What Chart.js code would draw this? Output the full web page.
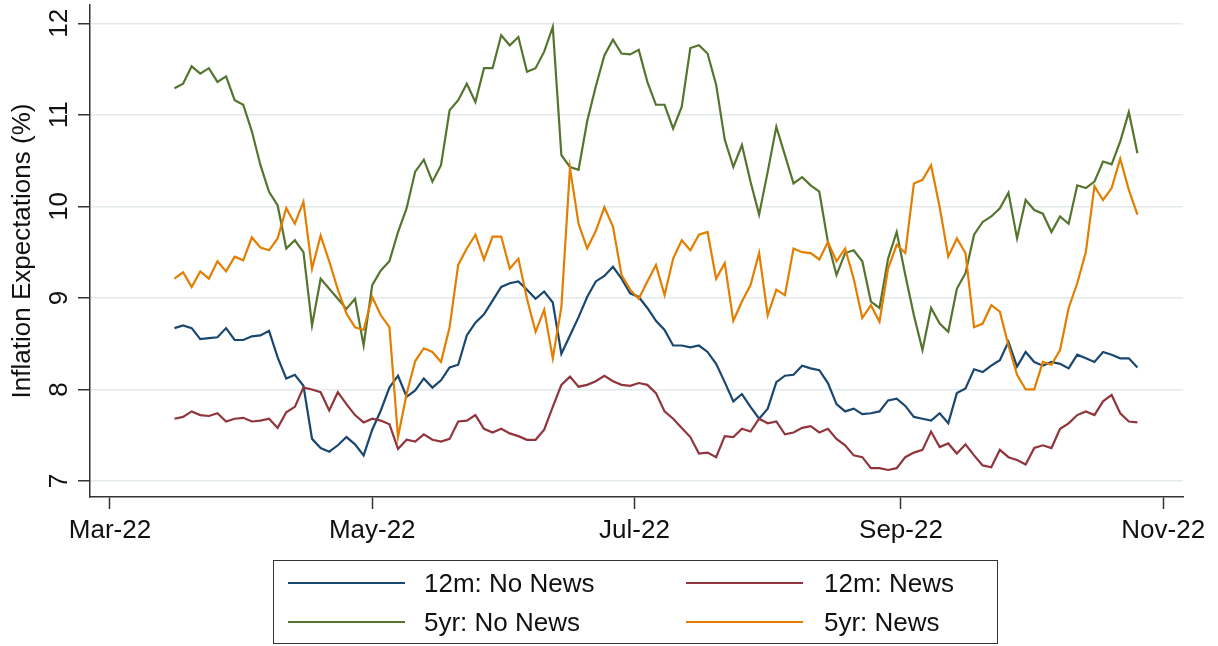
<!DOCTYPE html>
<html>
<head>
<meta charset="utf-8">
<title>Inflation Expectations</title>
<script src="https://cdn.jsdelivr.net/npm/chart.js@4.4.1/dist/chart.umd.min.js"></script>
<style>
    html, body { margin: 0; padding: 0; background: #fff; }
    #wrap { position: relative; width: 1218px; height: 646px; }
    #legend {
        position: absolute; left: 273px; top: 560px; width: 725px; height: 84px;
        box-sizing: border-box; border: 1.5px solid #333;
    }
    .leg-line { position: absolute; height: 2.5px; }
    .leg-text {
        position: absolute; transform: translateY(-50%); line-height: 1;
        font-family: 'Liberation Sans', Arial, sans-serif; font-size: 26px; color: #111;
        white-space: nowrap;
    }
</style>
</head>
<body>
<div id="wrap">
    <canvas id="chart" width="1218" height="646"></canvas>
    <div id="legend"></div>
</div>
<script>
// Sample dates (every second day)
const dates = [
    '2022-03-16', '2022-03-18', '2022-03-20', '2022-03-22', '2022-03-24', '2022-03-26', '2022-03-28', '2022-03-30',
    '2022-04-01', '2022-04-03', '2022-04-05', '2022-04-07', '2022-04-09', '2022-04-11', '2022-04-13', '2022-04-15',
    '2022-04-17', '2022-04-19', '2022-04-21', '2022-04-23', '2022-04-25', '2022-04-27', '2022-04-29',
    '2022-05-01', '2022-05-03', '2022-05-05', '2022-05-07', '2022-05-09', '2022-05-11', '2022-05-13', '2022-05-15',
    '2022-05-17', '2022-05-19', '2022-05-21', '2022-05-23', '2022-05-25', '2022-05-27', '2022-05-29', '2022-05-31',
    '2022-06-02', '2022-06-04', '2022-06-06', '2022-06-08', '2022-06-10', '2022-06-12', '2022-06-14', '2022-06-16',
    '2022-06-18', '2022-06-20', '2022-06-22', '2022-06-24', '2022-06-26', '2022-06-28', '2022-06-30',
    '2022-07-02', '2022-07-04', '2022-07-06', '2022-07-08', '2022-07-10', '2022-07-12', '2022-07-14', '2022-07-16',
    '2022-07-18', '2022-07-20', '2022-07-22', '2022-07-24', '2022-07-26', '2022-07-28', '2022-07-30',
    '2022-08-01', '2022-08-03', '2022-08-05', '2022-08-07', '2022-08-09', '2022-08-11', '2022-08-13', '2022-08-15',
    '2022-08-17', '2022-08-19', '2022-08-21', '2022-08-23', '2022-08-25', '2022-08-27', '2022-08-29', '2022-08-31',
    '2022-09-02', '2022-09-04', '2022-09-06', '2022-09-08', '2022-09-10', '2022-09-12', '2022-09-14', '2022-09-16',
    '2022-09-18', '2022-09-20', '2022-09-22', '2022-09-24', '2022-09-26', '2022-09-28', '2022-09-30',
    '2022-10-02', '2022-10-04', '2022-10-06', '2022-10-08', '2022-10-10', '2022-10-12', '2022-10-14', '2022-10-16',
    '2022-10-18', '2022-10-20', '2022-10-22', '2022-10-24', '2022-10-26'
];

const noNews12m = [
    8.67, 8.70, 8.67, 8.55, 8.56, 8.57, 8.67, 8.54, 8.54, 8.58, 8.59, 8.64, 8.35, 8.12, 8.16, 8.04, 7.46, 7.36, 7.32, 7.39, 7.48, 7.40, 7.28,
    7.56, 7.77, 8.02, 8.15, 7.92, 7.99, 8.12, 8.02, 8.10, 8.24, 8.27, 8.59, 8.73, 8.82, 8.97, 9.12, 9.16, 9.18, 9.09, 8.99, 9.07, 8.95, 8.39,
    8.59, 8.79, 9.01, 9.18, 9.24, 9.34, 9.21, 9.05, 9.01, 8.89, 8.75, 8.65, 8.48, 8.48, 8.46, 8.48, 8.41, 8.28, 8.08, 7.87, 7.95, 7.81, 7.68,
    7.79, 8.08, 8.15, 8.16, 8.26, 8.23, 8.21, 8.07, 7.84, 7.76, 7.79, 7.73, 7.74, 7.76, 7.88, 7.90, 7.82, 7.70, 7.68, 7.66, 7.74, 7.63, 7.96,
    8.01, 8.22, 8.19, 8.26, 8.32, 8.52, 8.25, 8.41, 8.30, 8.26, 8.30, 8.28, 8.23, 8.38, 8.34, 8.30, 8.41, 8.38, 8.34, 8.34, 8.24
];
const news12m = [
    7.68, 7.70, 7.76, 7.72, 7.71, 7.74, 7.65, 7.68, 7.69, 7.65, 7.66, 7.68, 7.58, 7.75, 7.81, 8.02, 8.00, 7.97, 7.77, 7.97, 7.84, 7.72, 7.64,
    7.68, 7.66, 7.62, 7.35, 7.45, 7.43, 7.51, 7.45, 7.43, 7.46, 7.65, 7.66, 7.72, 7.57, 7.53, 7.57, 7.52, 7.49, 7.45, 7.45, 7.56, 7.81, 8.05,
    8.14, 8.03, 8.05, 8.09, 8.15, 8.09, 8.05, 8.04, 8.07, 8.05, 7.96, 7.76, 7.68, 7.58, 7.48, 7.30, 7.31, 7.26, 7.49, 7.48, 7.57, 7.54, 7.68,
    7.63, 7.65, 7.51, 7.53, 7.58, 7.60, 7.53, 7.57, 7.46, 7.39, 7.28, 7.26, 7.14, 7.14, 7.12, 7.14, 7.26, 7.31, 7.34, 7.54, 7.37, 7.41, 7.30,
    7.40, 7.28, 7.17, 7.15, 7.34, 7.26, 7.23, 7.18, 7.36, 7.39, 7.36, 7.57, 7.63, 7.72, 7.76, 7.72, 7.87, 7.94, 7.74, 7.65, 7.64
];
const noNews5yr = [
    11.29, 11.34, 11.53, 11.45, 11.51, 11.36, 11.42, 11.16, 11.11, 10.82, 10.45, 10.16, 10.01, 9.54, 9.63, 9.50, 8.70, 9.21, 9.10, 8.99, 8.88, 8.99, 8.48,
    9.14, 9.30, 9.40, 9.72, 9.98, 10.38, 10.51, 10.27, 10.45, 11.05, 11.16, 11.34, 11.14, 11.51, 11.51, 11.87, 11.76, 11.85, 11.47, 11.51, 11.69, 11.96, 10.56,
    10.43, 10.40, 10.93, 11.31, 11.65, 11.82, 11.67, 11.66, 11.71, 11.36, 11.11, 11.11, 10.85, 11.09, 11.73, 11.76, 11.67, 11.33, 10.73, 10.43, 10.67, 10.27, 9.91,
    10.38, 10.87, 10.56, 10.25, 10.32, 10.23, 10.16, 9.61, 9.25, 9.49, 9.52, 9.40, 8.96, 8.89, 9.43, 9.72, 9.25, 8.81, 8.43, 8.89, 8.72, 8.63, 9.10,
    9.27, 9.69, 9.83, 9.89, 9.98, 10.15, 9.65, 10.07, 9.96, 9.92, 9.72, 9.89, 9.81, 10.23, 10.20, 10.27, 10.49, 10.46, 10.71, 11.03, 10.58
];
const news5yr = [
    9.21, 9.28, 9.12, 9.29, 9.21, 9.40, 9.29, 9.45, 9.41, 9.66, 9.55, 9.52, 9.65, 9.98, 9.81, 10.05, 9.32, 9.68, 9.40, 9.09, 8.83, 8.68, 8.65,
    9.01, 8.81, 8.68, 7.48, 7.95, 8.31, 8.45, 8.41, 8.30, 8.68, 9.36, 9.54, 9.69, 9.42, 9.67, 9.67, 9.32, 9.43, 8.99, 8.63, 8.87, 8.34, 8.90,
    10.42, 9.81, 9.54, 9.73, 9.99, 9.78, 9.25, 9.09, 8.99, 9.18, 9.36, 9.03, 9.43, 9.63, 9.52, 9.69, 9.72, 9.21, 9.38, 8.75, 8.96, 9.14, 9.49,
    8.81, 9.09, 9.03, 9.54, 9.50, 9.49, 9.42, 9.61, 9.40, 9.54, 9.21, 8.78, 8.92, 8.74, 9.32, 9.58, 9.49, 10.25, 10.29, 10.45, 9.99, 9.45, 9.65,
    9.49, 8.68, 8.72, 8.92, 8.85, 8.48, 8.16, 8.00, 8.00, 8.30, 8.27, 8.43, 8.89, 9.16, 9.50, 10.22, 10.07, 10.20, 10.52, 10.18, 9.91
];

const seriesNames = ['12m: No News', '12m: News', '5yr: No News', '5yr: News'];
const seriesColors = ['#1a476f', '#90353b', '#55752f', '#e37e00'];
const seriesValues = [noNews12m, news12m, noNews5yr, news5yr];

const tickDates = ['2022-03-01', '2022-05-01', '2022-07-01', '2022-09-01', '2022-11-01'];
const tickLabels = ['Mar-22', 'May-22', 'Jul-22', 'Sep-22', 'Nov-22'];
const yTicks = [7, 8, 9, 10, 11, 12];

const FONT = "'Liberation Sans', Arial, sans-serif";
const AXIS = '#333';

// days since 1 Mar 2022, used as the linear x value
function dayOf(s) {
    const p = s.split('-').map(Number);
    return (Date.UTC(p[0], p[1] - 1, p[2]) - Date.UTC(2022, 2, 1)) / 86400000;
}

const datasets = seriesValues.map((vals, k) => ({
    label: seriesNames[k],
    data: vals.map((v, i) => ({ x: dayOf(dates[i]), y: v })),
    borderColor: seriesColors[k],
    borderWidth: 2.2,
    pointRadius: 0,
    tension: 0,
    fill: false,
    order: seriesValues.length - k // later series drawn on top, like Stata
}));

const ctx = document.getElementById('chart').getContext('2d');
const chart = new Chart(ctx, {
    type: 'line',
    data: { datasets: datasets },
    options: {
        responsive: false,
        animation: false,
        devicePixelRatio: 1,
        layout: { padding: { left: 0, right: 35, top: 5, bottom: 89 } },
        plugins: {
            legend: { display: false },
            tooltip: { enabled: false }
        },
        scales: {
            x: {
                type: 'linear',
                position: 'bottom',
                min: -4.65,
                max: 249.6,
                afterBuildTicks: (s) => { s.ticks = tickDates.map(d => ({ value: dayOf(d) })); },
                afterFit: (s) => { s.height = 60; s.paddingLeft = 0; s.paddingRight = 0; },
                ticks: {
                    autoSkip: false,
                    maxRotation: 0,
                    padding: 6,
                    color: '#111',
                    font: { family: FONT, size: 26 },
                    callback: (v, i) => tickLabels[i]
                },
                grid: { drawOnChartArea: false, tickLength: 12, tickColor: AXIS, tickWidth: 1.5 },
                border: { color: AXIS, width: 1.5 }
            },
            y: {
                type: 'linear',
                position: 'left',
                min: 6.825,
                max: 12.2,
                afterBuildTicks: (s) => { s.ticks = yTicks.map(v => ({ value: v })); },
                afterFit: (s) => { s.width = 90; s.paddingTop = 0; s.paddingBottom = 0; },
                ticks: {
                    minRotation: 90,
                    maxRotation: 90,
                    crossAlign: 'center',
                    padding: 4,
                    color: '#111',
                    font: { family: FONT, size: 26 },
                    callback: (v) => String(v)
                },
                grid: { color: '#e3eaec', lineWidth: 1.5, tickLength: 12, tickColor: AXIS, tickWidth: 1.5 },
                border: { color: AXIS, width: 1.5 },
                title: {
                    display: true,
                    text: 'Inflation Expectations (%)',
                    color: '#111',
                    font: { family: FONT, size: 26 },
                    padding: { top: 7, bottom: 0 }
                }
            }
        }
    }
});

// Legend box (two columns, Stata style)
const legend = document.getElementById('legend');
const colLine = [287, 685];
const colText = [423, 823];
const rowY = [583, 622];
seriesNames.forEach((name, k) => {
    const col = k % 2;
    const row = Math.floor(k / 2);
    const line = document.createElement('div');
    line.className = 'leg-line';
    line.style.left = (colLine[col] - 273) + 'px';
    line.style.top = (rowY[row] - 560 - 2.5) + 'px';
    line.style.width = '117px';
    line.style.background = seriesColors[k];
    legend.appendChild(line);

    const text = document.createElement('div');
    text.className = 'leg-text';
    text.style.left = (colText[col] - 273) + 'px';
    text.style.top = (rowY[row] - 560 - 1.5) + 'px';
    text.textContent = name;
    legend.appendChild(text);
});
</script>
</body>
</html>
